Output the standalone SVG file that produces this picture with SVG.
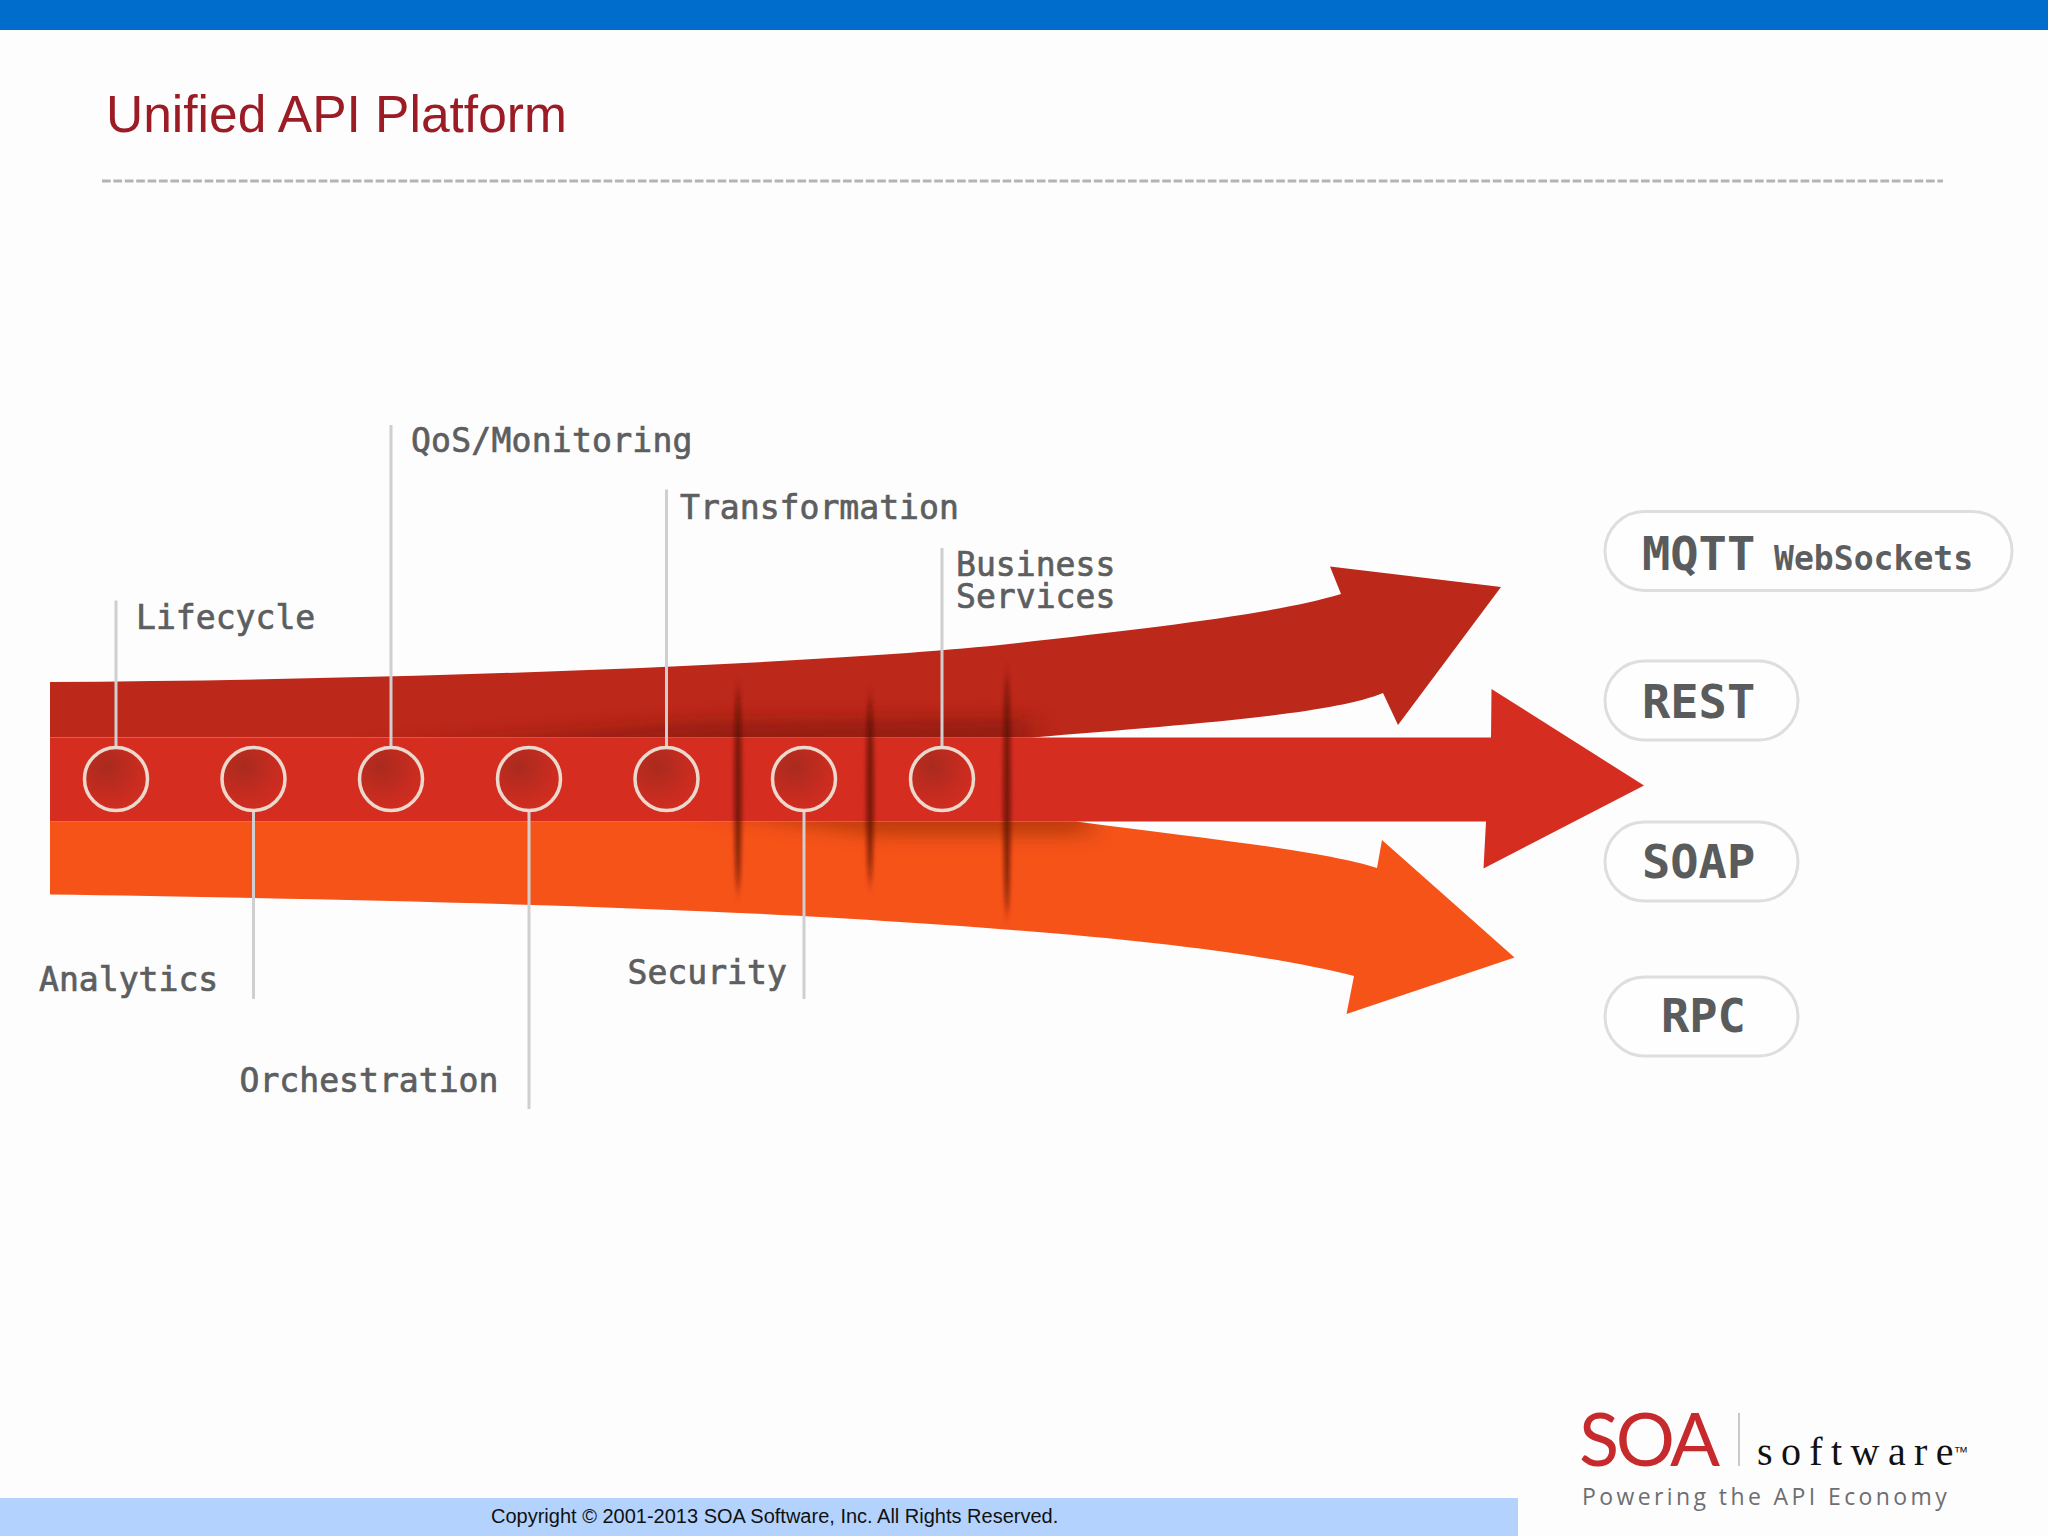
<svg xmlns="http://www.w3.org/2000/svg" width="2048" height="1536" viewBox="0 0 2048 1536">
<style>
.lbl{font-family:"DejaVu Sans Mono","Liberation Mono",monospace;font-size:33.1px;fill:#5d5e60;stroke:#5d5e60;stroke-width:0.7;}
.bold{font-weight:bold;stroke-width:0;}
.big{font-family:"DejaVu Sans Mono","Liberation Mono",monospace;font-size:47px;font-weight:bold;fill:#5a5b5d;}
.pill{fill:#fefefe;stroke:#dedee0;stroke-width:3;}
.lead{stroke:#cfcfd1;stroke-width:3;fill:none;}
.dot{fill:url(#dotfill);stroke:#ecd8cc;stroke-width:3.5;}
.slit{fill:#4e0d06;opacity:0.72;filter:url(#b2);}
</style>
<defs>
<radialGradient id="dotfill" cx="0.35" cy="0.3" r="0.8"><stop offset="0" stop-color="#aa2a1e"/><stop offset="0.7" stop-color="#cb2c20"/><stop offset="1" stop-color="#d22e20"/></radialGradient>
<filter id="b2" x="-500%" y="-20%" width="1100%" height="140%"><feGaussianBlur stdDeviation="2.2 9"/></filter>
<filter id="b12" x="-10%" y="-150%" width="120%" height="400%"><feGaussianBlur stdDeviation="14 9"/></filter>
<clipPath id="topclip"><path d="M50,682 C400,680 800,665 1000,645 C1150,628 1270,615 1341,594 L1330,566.5 L1501,587 L1398,725 L1383,693 C1330,715 1180,725 1032,737.5 L50,737.5 Z"/></clipPath>
<clipPath id="orgclip"><path d="M50,821.5 L1076,821.5 C1200,838 1320,850 1377,868 L1382,840 L1514.5,957.6 L1346.5,1014 L1354,976 C1250,950 1100,935 900,922 C650,905 300,898 50,894.5 Z"/></clipPath>
</defs>
<rect width="2048" height="1536" fill="#fdfdfe"/>
<rect id="topbar" width="2048" height="30" fill="#006dcc"/>
<text id="title" x="106" y="131.5" font-family="Liberation Sans, Arial, sans-serif" font-size="51.5" fill="#9c1c26">Unified API Platform</text>
<line id="rule" x1="102" y1="181" x2="1943" y2="181" stroke="#b4b4b8" stroke-width="3" stroke-dasharray="8.7 2.7"/>

<g id="arrows">
<path id="arrow-top" d="M50,682 C400,680 800,665 1000,645 C1150,628 1270,615 1341,594 L1330,566.5 L1501,587 L1398,725 L1383,693 C1330,715 1180,725 1032,737.5 L50,737.5 Z" fill="#bc2819"/>
<g clip-path="url(#topclip)"><path d="M350,750 L1030,750 L1030,718 L700,722 Z" fill="#7d1209" opacity="0.6" filter="url(#b12)"/></g>
<path id="arrow-bottom" d="M50,821.5 L1076,821.5 C1200,838 1320,850 1377,868 L1382,840 L1514.5,957.6 L1346.5,1014 L1354,976 C1250,950 1100,935 900,922 C650,905 300,898 50,894.5 Z" fill="#f65319"/>
<g clip-path="url(#orgclip)"><path d="M680,808 L1090,808 L1090,835 L880,835 Z" fill="#8a2a06" opacity="0.55" filter="url(#b12)"/></g>
<path id="arrow-mid" d="M50,737.5 L1491,737.5 L1491.5,689 L1644,785.5 L1483.5,868.5 L1486,821.5 L50,821.5 Z" fill="#d52e20"/>
<ellipse class="slit" cx="738" cy="790" rx="3.5" ry="100"/>
<ellipse class="slit" cx="870" cy="790" rx="3.5" ry="92"/>
<ellipse class="slit" cx="1007" cy="795" rx="3.5" ry="118"/>
</g>

<g id="connectors">
<line class="lead" x1="116" y1="600.5" x2="116" y2="748"/>
<line class="lead" x1="253.5" y1="810" x2="253.5" y2="999"/>
<line class="lead" x1="391" y1="425" x2="391" y2="748"/>
<line class="lead" x1="529" y1="810" x2="529" y2="1109"/>
<line class="lead" x1="666.5" y1="489.5" x2="666.5" y2="748"/>
<line class="lead" x1="804" y1="810" x2="804" y2="999"/>
<line class="lead" x1="942" y1="548" x2="942" y2="748"/>
</g>

<g id="node-lifecycle"><circle class="dot" cx="116" cy="779" r="31.5"/><text class="lbl" x="136" y="628.5">Lifecycle</text></g>
<g id="node-analytics"><circle class="dot" cx="253.5" cy="779" r="31.5"/><text class="lbl" x="39" y="990.5">Analytics</text></g>
<g id="node-qos"><circle class="dot" cx="391" cy="779" r="31.5"/><text class="lbl" x="411" y="452" letter-spacing="0.2">QoS/Monitoring</text></g>
<g id="node-orchestration"><circle class="dot" cx="529" cy="779" r="31.5"/><text class="lbl" x="239.5" y="1092">Orchestration</text></g>
<g id="node-transformation"><circle class="dot" cx="666.5" cy="779" r="31.5"/><text class="lbl" x="680" y="519">Transformation</text></g>
<g id="node-security"><circle class="dot" cx="804" cy="779" r="31.5"/><text class="lbl" x="627.5" y="984">Security</text></g>
<g id="node-business"><circle class="dot" cx="942" cy="779" r="31.5"/><text class="lbl"><tspan x="956" y="576">Business</tspan><tspan x="956" y="608">Services</tspan></text></g>

<g id="node-mqtt"><rect class="pill" x="1605" y="511.5" width="407" height="79" rx="39.5"/><text class="big" x="1642" y="570">MQTT</text><text class="lbl bold" x="1774" y="570">WebSockets</text></g>
<g id="node-rest"><rect class="pill" x="1605" y="661" width="193" height="79" rx="39.5"/><text class="big" x="1642" y="718">REST</text></g>
<g id="node-soap"><rect class="pill" x="1605" y="822" width="193" height="79" rx="39.5"/><text class="big" x="1642" y="878">SOAP</text></g>
<g id="node-rpc"><rect class="pill" x="1605" y="977" width="193" height="79" rx="39.5"/><text class="big" x="1661" y="1032">RPC</text></g>

<g id="footer">
<rect x="0" y="1498" width="1518" height="38" fill="#b3d3fe"/>
<text x="491" y="1523" font-family="Liberation Sans, Arial, sans-serif" font-size="20" fill="#111">Copyright © 2001-2013 SOA Software, Inc. All Rights Reserved.</text>
</g>
<g id="logo">
<text x="1579" y="1465.5" font-family="Lato, Liberation Sans, sans-serif" font-size="74" letter-spacing="-3.5" fill="#c62a2d">SOA</text>
<line x1="1739" y1="1413" x2="1739" y2="1466" stroke="#b8b8b8" stroke-width="1.5"/>
<text x="1757" y="1465" font-family="Liberation Serif, Times New Roman, serif" font-size="40" letter-spacing="8.4" fill="#111">software<tspan font-family="Liberation Sans, Arial, sans-serif" font-size="15" letter-spacing="0" dx="-8.4" dy="-8" fill="#222">™</tspan></text>
<text x="1582" y="1505" font-family="Open Sans, Noto Sans, sans-serif" font-size="23" letter-spacing="3.4" fill="#6d6e71">Powering the API Economy</text>
</g>
</svg>
